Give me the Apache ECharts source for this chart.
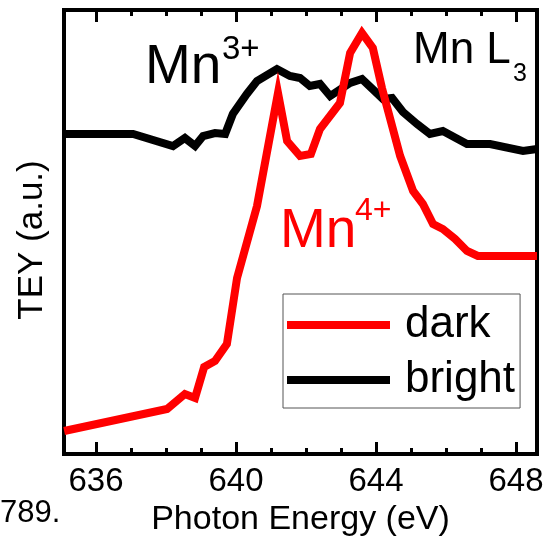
<!DOCTYPE html>
<html>
<head>
<meta charset="utf-8">
<script src="https://cdn.jsdelivr.net/npm/echarts@6/dist/echarts.min.js"></script>
<style>
html,body{margin:0;padding:0;background:#fff;}
#chart{width:545px;height:540px;}
</style>
</head>
<body>
<div id="chart"></div>
<script>
// ---- data ----
const darkX = [635.09, 638.03, 638.54, 638.83, 639.09, 639.40, 639.74, 640.03, 640.60, 641.20, 641.46, 641.83, 642.14, 642.40, 642.97, 643.26, 643.60, 643.91, 644.17, 644.69, 645.06, 645.34, 645.63, 645.91, 646.26, 646.60, 646.91, 648.60];
const darkY = [23, 45, 60, 56, 87, 93, 110, 176, 248, 361, 313, 298, 300, 325, 351, 401, 421, 406, 366, 298, 263, 250, 230, 225, 215, 203, 198, 198];
const brightX = [635.09, 637.06, 638.20, 638.54, 638.83, 639.06, 639.40, 639.69, 639.91, 640.31, 640.60, 641.17, 641.54, 641.83, 642.11, 642.40, 642.69, 643.26, 643.60, 644.20, 644.46, 644.77, 645.17, 645.54, 645.91, 646.60, 647.26, 648.20, 648.60];
const brightY = [320, 320, 308, 316, 308, 318, 321, 320, 340, 360, 373, 385, 378, 376, 368, 370, 358, 371, 375, 355, 356, 342, 330, 320, 323, 310, 310, 303, 305];
const majorTicks = [636, 640, 644, 648];
const minorTicks = [637, 638, 639, 641, 642, 643, 645, 646, 647];
const seriesNames = ['dark', 'bright'];
const xTitle = 'Photon Energy (eV)';
const yTitle = 'TEY (a.u.)';

const FONT = "'Liberation Sans', Arial, Helvetica, sans-serif";
const xMin = 635.086, xMax = 648.6;

function pairs(xs, ys) { return xs.map((x, i) => [x, ys[i]]); }

function xAx(pos, ticks, len, labels, extra) {
  return Object.assign({
    type: 'value', position: pos, min: xMin, max: xMax, gridIndex: 0,
    axisLine: { show: false },
    splitLine: { show: false },
    axisTick: { show: true, inside: true, length: len, customValues: ticks, lineStyle: { color: '#000', width: 3 } },
    axisLabel: labels ? {
      show: true, customValues: ticks, margin: 11,
      fontSize: 33, color: '#000', fontFamily: FONT
    } : { show: false }
  }, extra || {});
}

const chart = echarts.init(document.getElementById('chart'), null, { renderer: 'canvas' });
chart.setOption({
  animation: false,
  backgroundColor: '#fff',
  grid: { left: 64, top: 10, width: 473, height: 444, show: true, borderColor: '#000', borderWidth: 4, backgroundColor: 'transparent', containLabel: false, outerBoundsMode: 'none' },
  xAxis: [
    xAx('bottom', majorTicks, 12, true, { name: xTitle, nameLocation: 'middle', nameGap: 42, nameTextStyle: { fontSize: 34, color: '#000', fontFamily: FONT } }),
    xAx('bottom', minorTicks, 6, false),
    xAx('top', majorTicks, 12, false),
    xAx('top', minorTicks, 6, false)
  ],
  yAxis: {
    type: 'value', min: 0, max: 444,
    axisLine: { show: false }, axisTick: { show: false }, axisLabel: { show: false }, splitLine: { show: false },
    name: yTitle, nameLocation: 'middle', nameGap: 14, nameRotate: 90,
    nameTextStyle: { fontSize: 35, color: '#000', fontFamily: FONT, padding: [0, 16, 0, 0] }
  },
  legend: {
    orient: 'vertical', left: 283, top: 294, padding: [9, 5, 6, 4], itemGap: 11,
    itemWidth: 103, itemHeight: 8, icon: 'rect',
    borderColor: '#555', borderWidth: 1, backgroundColor: '#fff',
    textStyle: { fontSize: 44, lineHeight: 44, color: '#000', fontFamily: FONT, padding: [0, 0, 0, 10] },
    data: seriesNames
  },
  series: [
    { name: seriesNames[0], type: 'line', xAxisIndex: 0, data: pairs(darkX, darkY), showSymbol: false, symbol: 'none', z: 3,
      color: '#ff0000', lineStyle: { color: '#ff0000', width: 8, join: 'miter' } },
    { name: seriesNames[1], type: 'line', xAxisIndex: 0, data: pairs(brightX, brightY), showSymbol: false, symbol: 'none', z: 2,
      color: '#000000', lineStyle: { color: '#000000', width: 8, join: 'miter' } }
  ],
  graphic: [
    { type: 'text', x: 145, y: 68, style: { text: 'Mn', font: '55px ' + FONT, fill: '#000', verticalAlign: 'middle' }, z: 10 },
    { type: 'text', x: 222, y: 49.5, style: { text: '3+', font: '33px ' + FONT, fill: '#000', verticalAlign: 'middle' }, z: 10 },
    { type: 'text', x: 413, y: 51, style: { text: 'Mn L', font: '44px ' + FONT, fill: '#000', verticalAlign: 'middle' }, z: 10 },
    { type: 'text', x: 513, y: 74, style: { text: '3', font: '25px ' + FONT, fill: '#000', verticalAlign: 'middle' }, z: 10 },
    { type: 'text', x: 280, y: 232, style: { text: 'Mn', font: '55px ' + FONT, fill: '#ff0000', verticalAlign: 'middle' }, z: 10 },
    { type: 'text', x: 355, y: 211, style: { text: '4+', font: '32px ' + FONT, fill: '#ff0000', verticalAlign: 'middle' }, z: 10 },
    { type: 'text', x: 0, y: 513, style: { text: '789.', font: '31px ' + FONT, fill: '#000', verticalAlign: 'middle' }, z: 10 }
  ]
});
</script>
</body>
</html>
